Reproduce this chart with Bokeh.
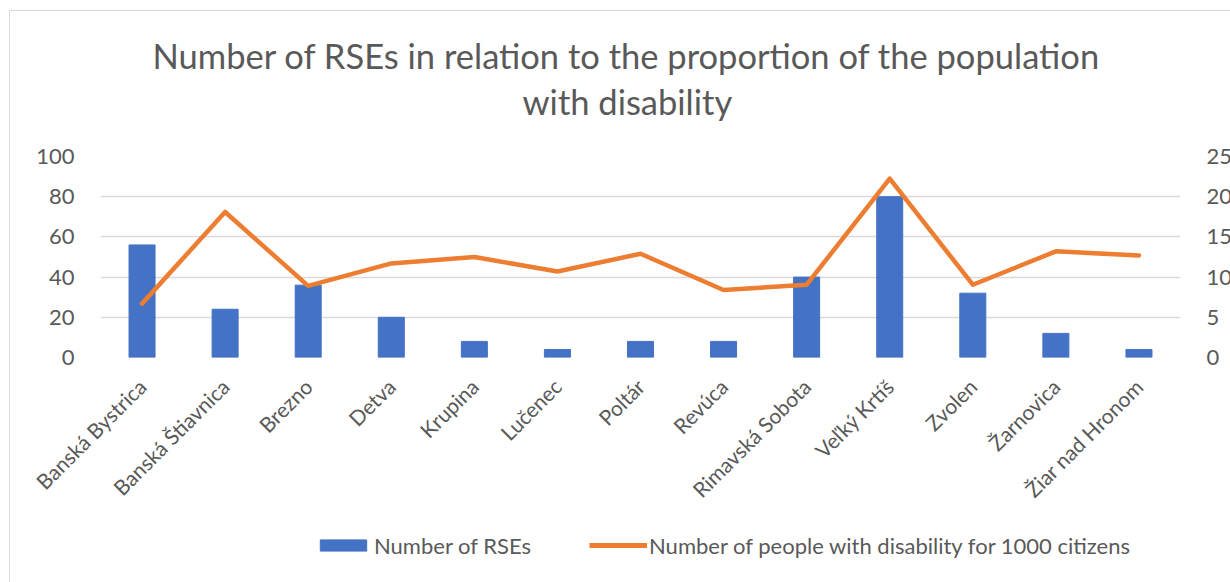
import math
from bokeh.plotting import figure
from bokeh.layouts import column
from bokeh.models import (FactorRange, Range1d, LinearAxis, Title, Legend, LegendItem,
                          ColumnDataSource, FixedTicker)
from bokeh.embed import file_html
from bokeh.resources import INLINE

districts = ["Banská Bystrica", "Banská Štiavnica", "Brezno", "Detva", "Krupina", "Lučenec",
             "Poltár", "Revúca", "Rimavská Sobota", "Veľký Krtíš", "Zvolen", "Žarnovica",
             "Žiar nad Hronom"]
rse_counts = [56, 24, 36, 20, 8, 4, 8, 8, 40, 80, 32, 12, 4]
disability_per_1000 = [6.7, 18.1, 8.9, 11.7, 12.5, 10.7, 12.9, 8.4, 9.05, 22.25, 9.05, 13.2, 12.7]
left_ticks = [0, 20, 40, 60, 80, 100]
right_ticks = [0, 5, 10, 15, 20, 25]
title_lines = ["Number of RSEs in relation to the proportion of the population", "with disability"]
legend_labels = ["Number of RSEs", "Number of people with disability for 1000 citizens"]

FONT = "Lato"
GREY = "#595959"
BLUE = "#4472C4"
ORANGE = "#ED7D31"

src = ColumnDataSource(dict(x=districts, rse=rse_counts, dis=disability_per_1000))

# ---------------- main chart ----------------
p = figure(x_range=FactorRange(*districts, range_padding=0), y_range=Range1d(0, 100),
           frame_width=1079, frame_height=200, output_backend="svg", toolbar_location=None,
           min_border_left=90, min_border_right=50, min_border_top=145, min_border_bottom=300)
p.extra_y_ranges = {"right": Range1d(0, 25)}
p.outline_line_color = None
p.background_fill_color = "white"
p.border_fill_color = "white"
p.styles = {"margin-left": "8.5px", "margin-top": "9.5px",
            "border-left": "1.5px solid #d9d9d9", "border-top": "1.5px solid #d9d9d9"}

p.vbar(x="x", top="rse", width=0.313, source=src, color=BLUE)
p.line(x="x", y="dis", source=src, y_range_name="right", line_color=ORANGE,
       line_width=4.5, line_join="round", line_cap="round")

p.yaxis.ticker = FixedTicker(ticks=left_ticks)
ra = LinearAxis(y_range_name="right", ticker=FixedTicker(ticks=right_ticks))
p.add_layout(ra, "right")
for ax in [p.yaxis[0], ra]:
    ax.axis_line_color = None
    ax.major_tick_line_color = None
    ax.minor_tick_line_color = None
    ax.major_label_text_font = FONT
    ax.major_label_text_font_size = "22px"
    ax.major_label_text_color = GREY
    ax.major_label_standoff = 20
p.xaxis.axis_line_color = None
p.xaxis.major_tick_line_color = None
p.xaxis.minor_tick_line_color = None
p.xaxis.major_label_orientation = math.pi / 4
p.xaxis.major_label_text_font = FONT
p.xaxis.major_label_text_font_size = "21px"
p.xaxis.major_label_text_color = GREY
p.xaxis.major_label_standoff = 19

p.xgrid.grid_line_color = None
p.ygrid.grid_line_color = "#d9d9d9"
p.ygrid.grid_line_width = 1.5

p.title = None
p.add_layout(Title(text=title_lines[1], align="left", offset=422, standoff=70,
                   text_font=FONT, text_font_size="34.5px", text_font_style="normal",
                   text_color=GREY), "above")
p.add_layout(Title(text=title_lines[0], align="left", offset=52, standoff=-65,
                   text_font=FONT, text_font_size="34.5px", text_font_style="normal",
                   text_color=GREY), "above")

# ---------------- legend strip (overlaid under the chart) ----------------
leg = figure(width=1220, height=22, x_range=FactorRange(*districts), y_range=Range1d(1000, 1001),
             output_backend="svg", toolbar_location=None, min_border=0,
             x_axis_location=None, y_axis_location=None)
leg.outline_line_color = None
leg.grid.visible = False
leg.background_fill_alpha = 0
leg.border_fill_alpha = 0
lb = leg.vbar(x="x", top="rse", width=0.313, source=src, color=BLUE)
ll = leg.line(x="x", y="dis", source=src, line_color=ORANGE, line_width=5)
legend = Legend(items=[LegendItem(label=legend_labels[0], renderers=[lb]),
                       LegendItem(label=legend_labels[1], renderers=[ll])],
                orientation="horizontal", location=(214, 0),
                label_text_font=FONT, label_text_font_size="22px", label_text_color=GREY,
                label_height=22, glyph_width=58, glyph_height=14, label_standoff=2, spacing=58,
                border_line_color=None, background_fill_alpha=0, padding=0, margin=0)
leg.add_layout(legend, "center")
leg.styles = {"margin-left": "10px", "margin-top": "-119px"}

open("out.html", "w").write(file_html(column(p, leg), INLINE))
